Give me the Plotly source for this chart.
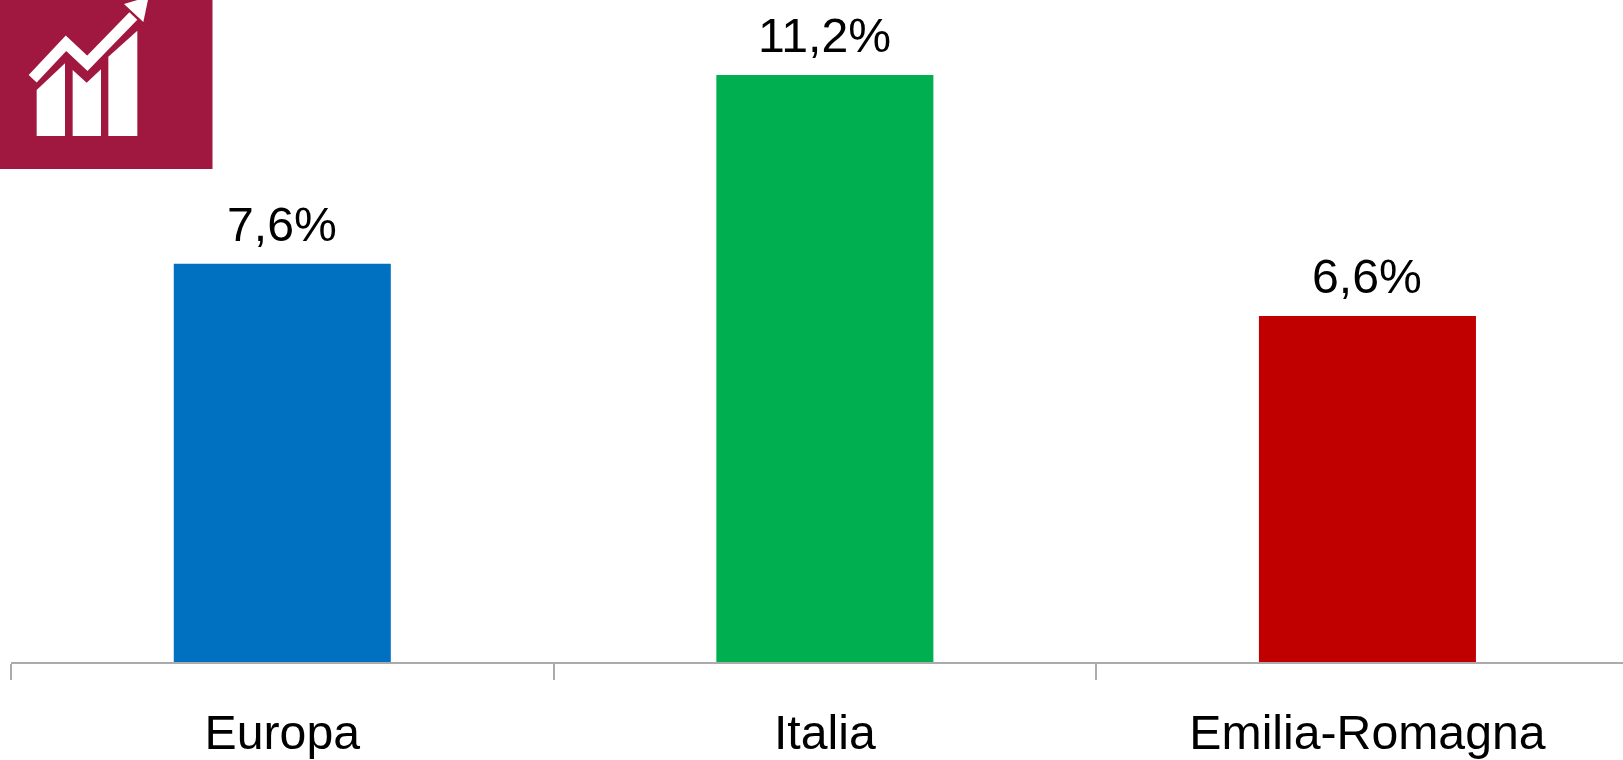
import plotly.graph_objects as go

categories = ["Europa", "Italia", "Emilia-Romagna"]
values = [7.6, 11.2, 6.6]
labels = ["7,6%", "11,2%", "6,6%"]
colors = ["#0070C0", "#00B050", "#C00000"]

W, H = 1623, 760
ML, MB = 11, 98
PW, PH = W - ML, H - MB
FONT = "Liberation Sans, Arial, sans-serif"
BADGE = "#A0173F"


def px(x):
    return (x - ML) / PW


def py(y):
    return (H - MB - y) / PH


def path(points, scale=3.0):
    parts = []
    for i, (x, y) in enumerate(points):
        parts.append(("M" if i == 0 else "L") + f"{px(x / scale):.5f},{py(y / scale):.5f}")
    return " ".join(parts)


bars_icon = [
    [(110, 270), (195, 190), (195, 408), (110, 408)],
    [(218, 210), (260, 248), (303, 208), (303, 408), (218, 408)],
    [(325, 170), (412, 92), (412, 408), (325, 408)],
]
trend_icon = [(98, 236), (198, 130), (262, 190), (400, 48)]
arrow_icon = [(372, 12), (446, -10), (430, 66)]

shapes = [dict(type="rect", xref="paper", yref="paper", x0=px(0), x1=px(212.5), y0=py(0), y1=py(169),
               fillcolor=BADGE, line=dict(width=0), layer="above")]
for b in bars_icon:
    shapes.append(dict(type="path", xref="paper", yref="paper", path=path(b) + " Z",
                       fillcolor="white", line=dict(width=0), layer="above"))
shapes.append(dict(type="path", xref="paper", yref="paper", path=path(trend_icon),
                   line=dict(color="white", width=11), layer="above"))
shapes.append(dict(type="path", xref="paper", yref="paper", path=path(arrow_icon) + " Z",
                   fillcolor="white", line=dict(width=0), layer="above"))

fig = go.Figure(go.Bar(x=categories, y=values, marker=dict(color=colors, line=dict(width=0)),
                       width=0.4, hoverinfo="skip"))

annotations = [dict(x=c, y=v, text=t, showarrow=False, yanchor="bottom", xanchor="center", yshift=11,
                    font=dict(family=FONT, size=48.2, color="#000000"))
               for c, v, t in zip(categories, values, labels)]

fig.update_layout(
    width=W, height=H, margin=dict(l=ML, r=0, t=0, b=MB, pad=0),
    paper_bgcolor="white", plot_bgcolor="white", showlegend=False,
    shapes=shapes, annotations=annotations,
    xaxis=dict(type="category", range=[-0.5, 2.471], tickson="boundaries", ticks="outside",
               ticklen=16, tickwidth=1.5, tickcolor="#ABABAB", showline=True, linecolor="#ABABAB",
               linewidth=1.5, showgrid=False, zeroline=False, ticklabelstandoff=27,
               tickfont=dict(family=FONT, size=48.2, color="#000000")),
    yaxis=dict(range=[0, 12.63], visible=False, showgrid=False, zeroline=False),
)

fig.write_html("out.html", config=dict(displayModeBar=False),
               post_script="document.body.style.margin='0';")
